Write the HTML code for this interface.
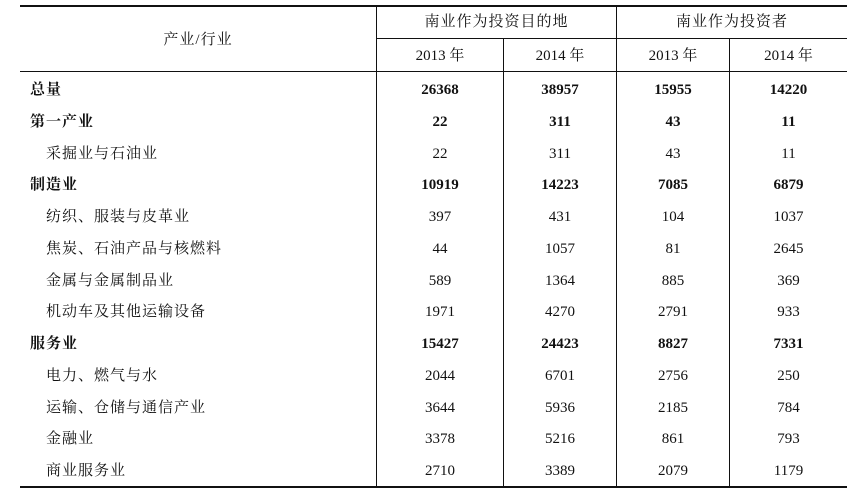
<!DOCTYPE html>
<html><head><meta charset="utf-8"><style>
body{margin:0;width:864px;height:497px;background:#fff;position:relative;overflow:hidden;font-family:"Liberation Serif","Noto Serif CJK SC","Noto Sans CJK SC",serif;color:#111;font-size:15px}
.h{position:absolute;background:#111}
.t{position:absolute;white-space:nowrap;line-height:20px;transform:translateY(-10px)}
.c{text-align:center}
.z{letter-spacing:1px}
</style></head><body>
<div class="h" style="left:20px;top:5px;width:827px;height:2px"></div>
<div class="h" style="left:377px;top:38px;width:470px;height:1px"></div>
<div class="h" style="left:20px;top:71px;width:827px;height:1px"></div>
<div class="h" style="left:20px;top:486px;width:827px;height:2px"></div>
<div class="h" style="left:376px;top:6px;width:1px;height:481px"></div>
<div class="h" style="left:616px;top:6px;width:1px;height:481px"></div>
<div class="h" style="left:503px;top:39px;width:1px;height:448px"></div>
<div class="h" style="left:729px;top:39px;width:1px;height:448px"></div>
<div class="t c z" style="left:20px;width:356px;top:40px">产业/行业</div>
<div class="t c z" style="left:377px;width:239px;top:22px">南业作为投资目的地</div>
<div class="t c z" style="left:617px;width:230px;top:22px">南业作为投资者</div>
<div class="t c" style="left:377px;width:126px;top:56px">2013 年</div>
<div class="t c" style="left:504px;width:112px;top:56px">2014 年</div>
<div class="t c" style="left:617px;width:112px;top:56px">2013 年</div>
<div class="t c" style="left:730px;width:117px;top:56px">2014 年</div>
<div id="rows"></div>
<script>
var d=[["总量",1,26368,38957,15955,14220],["第一产业",1,22,311,43,11],["采掘业与石油业",0,22,311,43,11],["制造业",1,10919,14223,7085,6879],["纺织、服装与皮革业",0,397,431,104,1037],["焦炭、石油产品与核燃料",0,44,1057,81,2645],["金属与金属制品业",0,589,1364,885,369],["机动车及其他运输设备",0,1971,4270,2791,933],["服务业",1,15427,24423,8827,7331],["电力、燃气与水",0,2044,6701,2756,250],["运输、仓储与通信产业",0,3644,5936,2185,784],["金融业",0,3378,5216,861,793],["商业服务业",0,2710,3389,2079,1179]];
var cols=[[377,126],[504,112],[617,112],[730,117]],h="";
d.forEach(function(r,i){var y=90+i*31.75,fw=r[1]?"bold":"normal";
h+='<div class="t z" style="left:'+(r[1]?30:46)+'px;top:'+y+'px;font-weight:'+fw+'">'+r[0]+'</div>';
for(var j=0;j<4;j++)h+='<div class="t c" style="left:'+cols[j][0]+'px;width:'+cols[j][1]+'px;top:'+y+'px;font-weight:'+fw+'">'+r[j+2]+'</div>';});
document.getElementById("rows").innerHTML=h;
</script>
</body></html>
